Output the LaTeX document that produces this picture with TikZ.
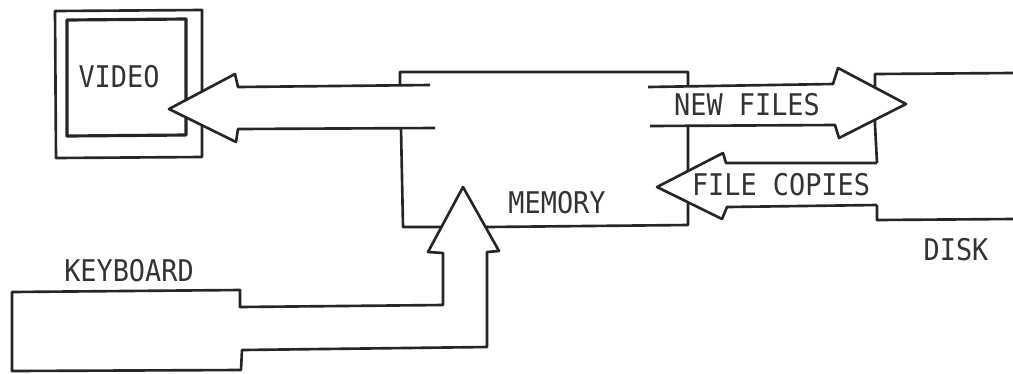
\documentclass[tikz,border=0pt]{standalone}
\usepackage{fontspec}
\newfontfamily\typedfont[FakeStretch=0.9]{DejaVu Sans Mono}
\usepackage{tikz}
\tikzstyle{outline}=[draw=black!85, line width=1.5pt, line join=round]
\tikzstyle{blockarrow}=[outline, fill=white]
\tikzstyle{typed}=[inner sep=0pt, text=black!80, font=\typedfont\fontsize{17}{17}\selectfont]

\begin{document}
\begin{tikzpicture}[x=0.02cm, y=-0.02cm]
        \useasboundingbox (0,0) rectangle (1013,373);
        % monitor
        \draw[outline] (55,11) -- (202,10) -- (202,157) -- (56,158) -- cycle;
        \draw[outline, line width=1.8pt] (67,20) -- (186,19) -- (186,135) -- (67,136) -- cycle;
        % memory
        \draw[outline] (400,85) -- (400,72) -- (688,72) -- (688,225) -- (487,227) -- (403,227) -- (401,128);
        % disk
        \draw[outline] (1013,73) -- (875,74) -- (875,125) -- (877,163);
        \draw[outline] (877,205) -- (877,220) -- (1013,219);
        % block arrows
        \draw[blockarrow] (430,85) -- (238,87) -- (235,74) -- (169,109) -- (236,142) -- (238,129) -- (435,128);
        \draw[blockarrow] (648,87) -- (833,84) -- (838,68) -- (906,104) -- (839,138) -- (835,125) -- (650,126);
        \draw[blockarrow] (877,163) -- (726,163) -- (723,153) -- (657,187) -- (722,219) -- (727,207) -- (877,205);
        \draw[blockarrow] (12,292) -- (240,290) -- (240,307) -- (443,305) -- (443,253) -- (428,252) -- (463,187)
            -- (499,251) -- (487,252) -- (487,347) -- (242,350) -- (241,370) -- (12,371) -- cycle;
        % labels
        \node[typed] (video) at (119,77) {VIDEO};
        \node[typed] (newfiles) at (747,105) {NEW FILES};
        \node[typed] (filecopies) at (781,185) {FILE COPIES};
        \node[typed] (memory) at (557,203) {MEMORY};
        \node[typed] (keyboard) at (129,271) {KEYBOARD};
        \node[typed] (disk) at (956,250) {DISK};
    \end{tikzpicture}
\end{document}
